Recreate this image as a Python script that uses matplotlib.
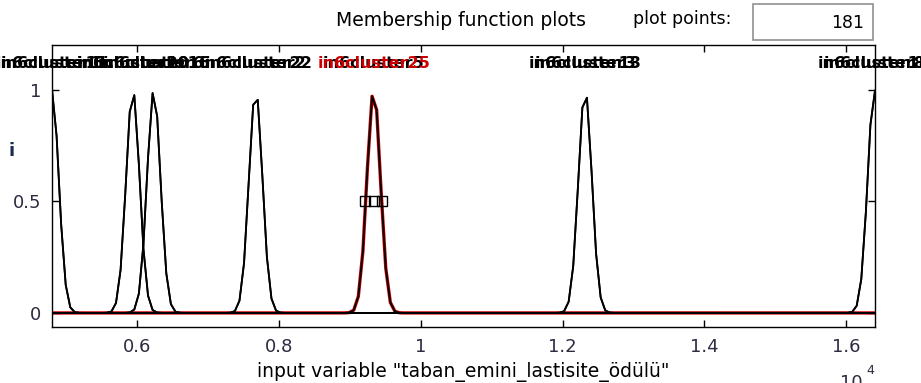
import numpy as np
import matplotlib
matplotlib.use("Agg")
import matplotlib.pyplot as plt
from matplotlib.patches import Rectangle

# input variable range (x 1e4) and number of plot points
x_range = [0.4797, 1.6409]
plot_points = 181

# gaussian membership functions: names, centers (x 1e4), sigmas (x 1e4)
mf_names = [
    "in6cluster1", "in6cluster11",
    "in6cluster10", "in6cluster20",
    "in6cluster6", "in6cluster16",
    "in6cluster2", "in6cluster22",
    "in6cluster5", "in6cluster25",
    "in6cluster3", "in6cluster13",
    "in6cluster8", "in6cluster18",
]
mf_centers = [
    0.4797, 0.4797,
    0.5937, 0.5937,
    0.6233, 0.6233,
    0.7671, 0.7671,
    0.9336, 0.9336,
    1.2319, 1.2319,
    1.6400, 1.6400,
]
mf_sigmas = [0.0095] * len(mf_names)

selected_mf = "in6cluster25"
handle_x = [0.9216, 0.9336, 0.9456]
handle_y = [0.5, 0.5, 0.5]

x_ticks = [0.6, 0.8, 1.0, 1.2, 1.4, 1.6]
x_ticklabels = ["0.6", "0.8", "1", "1.2", "1.4", "1.6"]
y_ticks = [0, 0.5, 1]
y_ticklabels = ["0", "0.5", "1"]

var_name = "taban_emini_lastisite_ödülü"

W, H = 921, 383
fig = plt.figure(figsize=(W / 100, H / 100), dpi=100)
ax = fig.add_axes([52 / W, 56 / H, 823 / W, 282 / H])

x = np.linspace(x_range[0], x_range[1], plot_points)
tick_color = "#2e2a40"

for name, c, s in zip(mf_names, mf_centers, mf_sigmas):
    y = np.exp(-((x - c) ** 2) / (2 * s ** 2))
    sel = name == selected_mf
    ax.plot(x, y, color="#cc0000" if sel else "black",
            lw=2.4 if sel else 1.3, zorder=2 if sel else 3)
    ax.text(c, 1.115, name, ha="center", va="center", fontsize=11.5,
            fontweight="bold", color="#cc0000" if sel else "black",
            clip_on=False, zorder=5 if sel else 4)

ax.plot(handle_x, handle_y, ls="none", marker="s", ms=6.5, mfc="none",
        mec="black", mew=1.0, zorder=6)

ax.set_xlim(x_range)
ax.set_ylim(-0.063, 1.2)
ax.set_xticks(x_ticks)
ax.set_xticklabels(x_ticklabels)
ax.set_yticks(y_ticks)
ax.set_yticklabels(y_ticklabels)
ax.tick_params(direction="in", length=5, width=1, top=True, right=True,
               labelsize=13, labelcolor=tick_color, pad=8)
for sp in ax.spines.values():
    sp.set_linewidth(1.0)

ax.set_xlabel(f'input variable "{var_name}"', fontsize=13.5)
ax.xaxis.set_label_coords(0.5, -0.125)

fig.text(12 / W, 1 - 151 / H, "i", ha="center", va="center", fontsize=13,
         fontweight="bold", color="#1a2a50")
fig.text(461 / W, 1 - 21 / H, "Membership function plots", ha="center",
         va="center", fontsize=13.5)
fig.text(682 / W, 1 - 19 / H, "plot points:", ha="center", va="center",
         fontsize=12.5)
fig.patches.append(Rectangle((753 / W, 1 - 40 / H), 120 / W, 36 / H,
                             transform=fig.transFigure, facecolor="white",
                             edgecolor="#909090", lw=1.2))
fig.text(864 / W, 1 - 23 / H, str(plot_points), ha="right", va="center",
         fontsize=12.5)
# axis multiplier, partly cut off at the bottom edge as in the screenshot
fig.text(840 / W, 1 - 374 / H, "10", ha="left", va="top",
         fontsize=13, color=tick_color)
fig.text(866 / W, 1 - 364 / H, "4", ha="left", va="top",
         fontsize=9, color=tick_color)

fig.savefig("out.png", dpi=100)
